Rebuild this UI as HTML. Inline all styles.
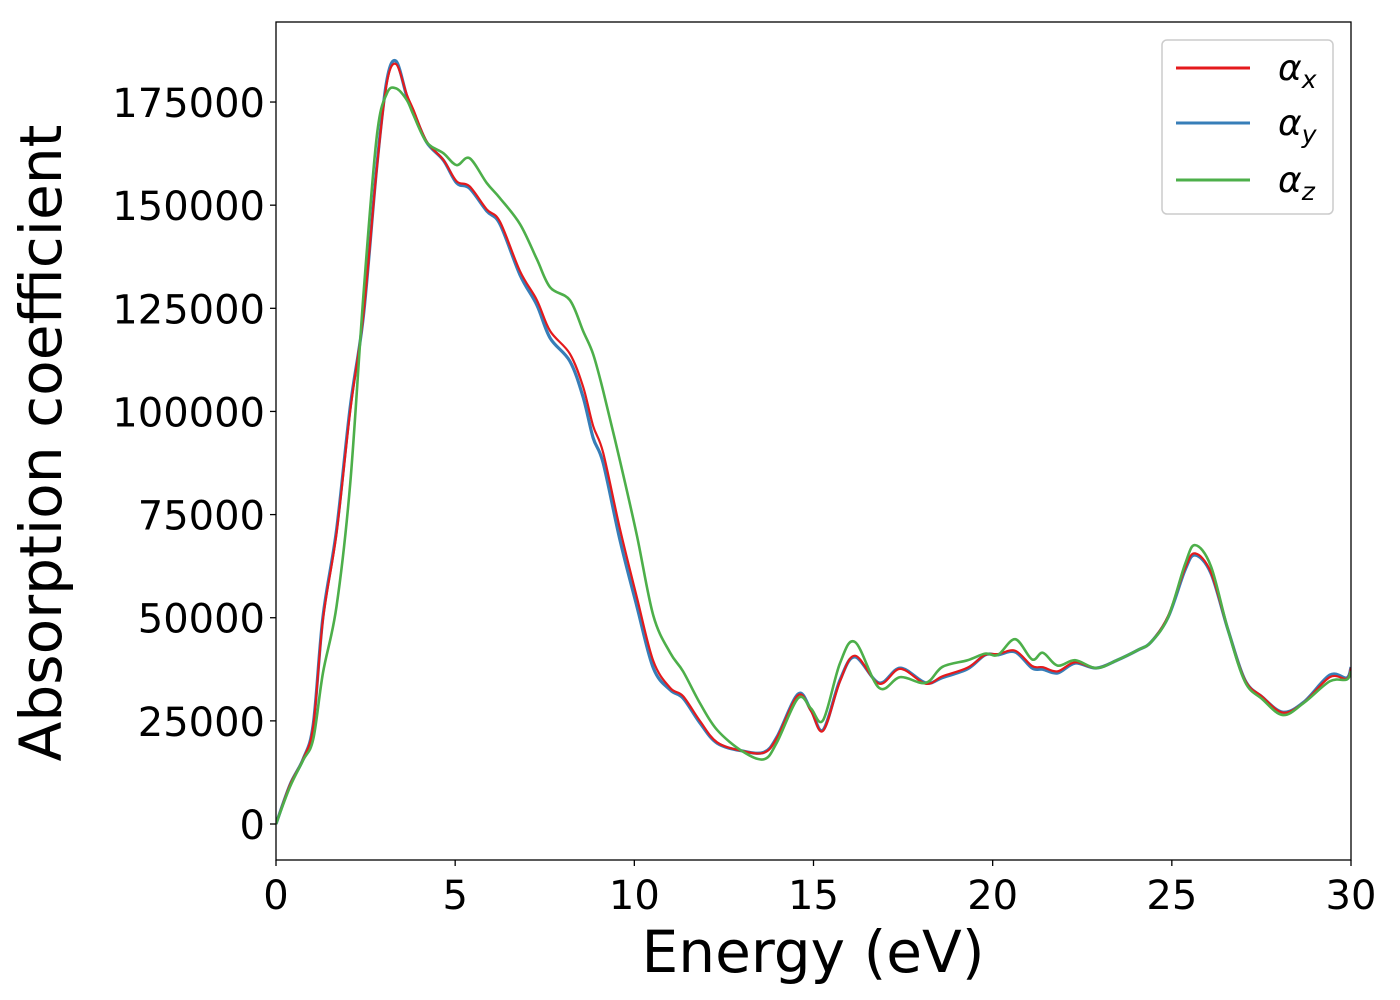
<!DOCTYPE html>
<html><head><meta charset="utf-8"><style>
body{margin:0;background:#fff;}
svg{display:block;font-family:"DejaVu Sans","Liberation Sans",sans-serif;}
</style></head><body>
<svg id="chart" width="1400" height="1000">
<rect x="0" y="0" width="1400" height="1000" fill="#fff"/>
<g id="plot"></g>
<g id="axes"></g>
<text x="813" y="972" font-size="58" text-anchor="middle" textLength="343" lengthAdjust="spacingAndGlyphs">Energy (eV)</text>
<text transform="translate(61,443) rotate(-90)" font-size="58" text-anchor="middle" textLength="637" lengthAdjust="spacingAndGlyphs">Absorption coefficient</text>
<g>
<rect x="1162" y="40" width="171" height="174" rx="5" fill="#fff" fill-opacity="0.8" stroke="#ccc" stroke-width="1.5"/>
<g><line x1="1176" y1="68" x2="1250" y2="68" stroke="#e41a1c" stroke-width="3"/><text x="1278" y="80" font-size="36" font-style="italic">α<tspan font-size="25" dy="8">x</tspan></text></g>
<g><line x1="1176" y1="123" x2="1250" y2="123" stroke="#377eb8" stroke-width="3"/><text x="1278" y="135" font-size="36" font-style="italic">α<tspan font-size="25" dy="8">y</tspan></text></g>
<g><line x1="1176" y1="180" x2="1250" y2="180" stroke="#4daf4a" stroke-width="3"/><text x="1278" y="192" font-size="36" font-style="italic">α<tspan font-size="25" dy="8">z</tspan></text></g>
</g>
</svg>
<script>
const energy=[0,0.39,0.76,1.04,1.31,1.69,2.07,2.44,2.81,3.09,3.35,3.65,3.83,4.2,4.67,5.04,5.4,5.88,6.25,6.81,7.28,7.65,8.2,8.57,8.85,9.13,9.6,10.07,10.53,11.0,11.36,11.83,12.31,13.02,13.62,13.98,14.57,14.93,15.27,15.74,16.16,16.83,17.42,18.13,18.6,19.3,19.79,20.15,20.63,21.1,21.4,21.81,22.3,22.89,23.47,24.06,24.42,24.9,25.37,25.65,26.09,26.57,27.04,27.52,28.1,28.69,29.41,29.88,30];
const alphaY=[0,9.5,15.8,24.2,50.2,71.3,101,123.2,159.1,180.1,184.9,176.4,172.8,165.3,160.9,155.4,154.1,148.6,145.4,133.1,125.8,117.8,112.2,103.5,93.6,87.5,68.8,52.8,37.8,32.5,30.5,24.5,19.6,17.7,17.4,21.1,31.5,27.6,22.8,34.9,40.5,34.2,37.8,34.2,35.5,37.6,41.0,41.0,41.7,37.8,37.5,36.6,39.0,37.8,39.7,42.2,44.1,50.2,61.6,65.2,60.8,47,34.9,30.8,27.1,29.6,36.1,35.4,38.0];
const alphaX=[0,9.5,15.8,23.8,49.5,70.5,100,123.5,158.5,179.5,184.2,176.8,173.2,165.5,161.0,155.8,154.6,149.0,146.0,134.0,127.0,119.5,114.0,106.0,96.5,90.0,71.5,55.0,39.5,33.0,31.0,25.0,19.8,17.7,17.3,20.9,31.2,27.4,22.6,34.6,40.8,34.0,37.6,34.0,35.8,37.9,41.0,41.2,42.0,38.3,38.0,37.0,39.2,37.8,39.7,42.2,44.1,50.5,62.0,65.6,61.0,47,34.9,30.9,27.0,29.5,35.6,35.2,37.8];
const alphaZ=[0,9.0,15.5,20.6,36.6,52.8,82.4,128.2,166.5,177.0,178.3,175.5,172.0,165.3,162.6,159.7,161.4,155.4,151.7,145.4,136.9,130.1,127.0,119.5,113.9,105,88,70,50.5,41.5,37,29.3,22.8,17.6,15.7,19.8,30.5,28.0,25.2,39.0,44.1,33.0,35.6,34.2,38.1,39.7,41.3,41.0,44.8,39.9,41.5,38.4,39.7,37.8,39.7,42.2,44.1,50.2,63,67.6,62.5,47,34.5,30.3,26.4,29.4,34.6,35.0,37.0];
const xTicks=[0,5,10,15,20,25,30];
const yTicks=[0,25000,50000,75000,100000,125000,150000,175000];
const X0=276,X1=1351,Y0=22,Y1=860;
const xMin=0,xMax=30,yMin=-8725,yMax=194400;
function sx(v){return X0+(v-xMin)/(xMax-xMin)*(X1-X0);}
function sy(v){return Y1-(v-yMin)/(yMax-yMin)*(Y1-Y0);}
const NS="http://www.w3.org/2000/svg";
function mk(t,a){const e=document.createElementNS(NS,t);for(const k in a)e.setAttribute(k,a[k]);return e;}
function pathD(xs,ys){
  const p=xs.map((x,i)=>[sx(x),sy(ys[i]*1000)]);
  let d="M"+p[0][0].toFixed(2)+","+p[0][1].toFixed(2);
  for(let i=0;i<p.length-1;i++){
    const a=p[Math.max(i-1,0)],b=p[i],c=p[i+1],e=p[Math.min(i+2,p.length-1)];
    const c1=[b[0]+(c[0]-a[0])/6,b[1]+(c[1]-a[1])/6],c2=[c[0]-(e[0]-b[0])/6,c[1]-(e[1]-b[1])/6];
    d+=" C"+c1[0].toFixed(2)+","+c1[1].toFixed(2)+" "+c2[0].toFixed(2)+","+c2[1].toFixed(2)+" "+c[0].toFixed(2)+","+c[1].toFixed(2);
  }
  return d;
}
const plot=document.getElementById('plot');
const clip=mk('clipPath',{id:'cp'});clip.appendChild(mk('rect',{x:X0,y:Y0,width:X1-X0,height:Y1-Y0}));plot.appendChild(clip);
const series=[[alphaY,'#377eb8',3.2,'line-alpha-y'],[alphaX,'#e41a1c',2.2,'line-alpha-x'],[alphaZ,'#4daf4a',2.6,'line-alpha-z']];
series.forEach(s=>{
  const el=mk('path',{d:pathD(energy,s[0]),fill:'none',stroke:s[1],'stroke-width':s[2],'clip-path':'url(#cp)','stroke-linejoin':'round'});
  
  
  plot.appendChild(el);
});
const axes=document.getElementById('axes');
const frame=mk('rect',{x:X0,y:Y0,width:X1-X0,height:Y1-Y0,fill:'none',stroke:'#000','stroke-width':1.3});


axes.appendChild(frame);
xTicks.forEach(t=>{
  const x=sx(t);
  axes.appendChild(mk('line',{x1:x,y1:Y1,x2:x,y2:Y1+6,stroke:'#000','stroke-width':1.3}));
  const tx=mk('text',{x:x,y:Y1+49,'font-size':40,'text-anchor':'middle'});
  tx.textContent=t;
  
  
  axes.appendChild(tx);
});
yTicks.forEach(t=>{
  const y=sy(t);
  axes.appendChild(mk('line',{x1:X0-6,y1:y,x2:X0,y2:y,stroke:'#000','stroke-width':1.3}));
  const tx=mk('text',{x:X0-11,y:y+15,'font-size':40,'text-anchor':'end'});
  tx.textContent=t;
  
  
  axes.appendChild(tx);
});
</script>
</body></html>
